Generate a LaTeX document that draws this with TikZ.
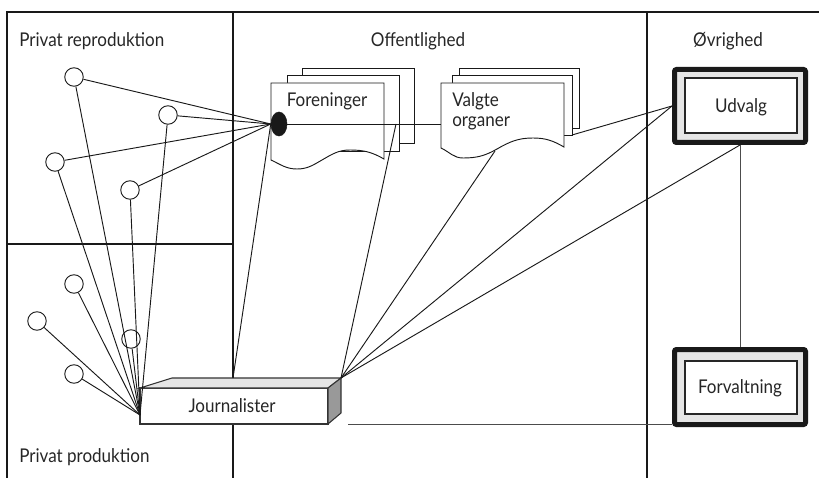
\documentclass[tikz,border=0pt]{standalone}
\usepackage{fontspec}
\setmainfont{Lato}[FakeStretch=0.9]
\usetikzlibrary{shapes.geometric}
\begin{document}
\begin{tikzpicture}[x=0.75pt,y=-0.75pt,
  thinline/.style={line width=0.7pt,draw=black!90},
  frameline/.style={line width=1.4pt,draw=black!90},
  dot/.style={circle,draw=black!90,line width=0.7pt,minimum size=13.9pt,inner sep=0pt},
  lbl/.style={font=\fontsize{14.2}{16}\selectfont,text=black!85,inner sep=0pt},
  doc/.style={draw=black!90,fill=white,line width=0.7pt},
  outerbox/.style={draw=black!90,fill=black!10,line width=3.75pt,rounded corners=1.5pt,minimum width=98.25pt,inner sep=0pt},
  innerbox/.style={draw=black!85,fill=white,line width=0.9pt,minimum width=84pt,inner sep=0pt}]
\useasboundingbox (0,0) rectangle (819,478);

% frame
\draw[frameline,line width=2.2pt] (7,478) -- (7,12) -- (819,12);
\draw[frameline] (233,12) -- (233,478);
\draw[frameline] (647,12) -- (647,478);
\draw[line width=1pt,draw=black!90] (7,244) -- (233,244);

% labels of the regions
\node[lbl,anchor=base west] (t1) at (19,47) {Privat reproduktion};
\node[lbl,anchor=base] (t2) at (418,47) {Offentlighed};
\node[lbl,anchor=base] (t3) at (728,47) {Øvrighed};
\node[lbl,anchor=base west] (t4) at (19,462) {Privat produktion};

% circles
\node[dot] (c1) at (74,77) {};
\node[dot] (c2) at (168,115) {};
\node[dot] (c3) at (55,162) {};
\node[dot] (c4) at (130,190) {};
\node[dot] (c5) at (74,284) {};
\node[dot] (c6) at (37,321) {};
\node[dot] (c7) at (131,339) {};
\node[dot] (c8) at (74,374) {};

% Foreninger stack
\draw[doc] (302,68) rectangle (414,143);
\draw[doc] (287,75) rectangle (399,151);
\draw[doc] (271,83) -- (384,83) -- (384,159) to[out=150,in=0] (350,150) to[out=180,in=30] (322,160) to[out=210,in=0] (297,169) to[out=180,in=-25] (271,160) -- cycle;
\node[lbl,anchor=base] (foren) at (327,107) {Foreninger};

% Valgte organer stack
\draw[doc] (459,68) rectangle (579,128);
\draw[doc] (452,75) rectangle (572,135);
\draw[doc] (441,83) -- (564,83) -- (564,147) to[out=150,in=0] (533,138) to[out=180,in=30] (497,149) to[out=210,in=0] (463,158) to[out=180,in=-25] (441,148) -- cycle;
\node[lbl,anchor=base west] (valg1) at (452,107) {Valgte};
\node[lbl,anchor=base west] (valg2) at (452,127) {organer};

% Udvalg and Forvaltning
\node[outerbox,minimum height=54.75pt] (udv) at (740,106) {};
\node[innerbox,minimum height=41.25pt] (udvi) at (741,105.5) {};
\node[lbl,anchor=base] (udvt) at (741,113) {Udvalg};
\node[outerbox,minimum height=56.25pt] (forv) at (740,387) {};
\node[innerbox,minimum height=39.75pt] (forvi) at (741,387.5) {};
\node[lbl,anchor=base] (forvt) at (740,393) {Forvaltning};

% Journalister box
\node[draw=black!80,fill=white,line width=0.8pt,outer sep=0pt,minimum width=141pt,minimum height=27pt,inner sep=0pt] (jour) at (234,406) {};
\draw[fill=black!10,line width=0.8pt,draw=black!80] (140,388) -- (172,378) -- (341,378) -- (328,388) -- cycle;
\draw[fill=black!40,line width=0.8pt,draw=black!80] (328,388) -- (341,378) -- (341,413) -- (328,424) -- cycle;
\node[lbl,anchor=base] (jourt) at (232,412) {Journalister};

% connection points
\coordinate (JL) at (140,415);
\coordinate (JR) at (341,378);
\coordinate (JT) at (233,378);
\coordinate (FR) at (396,124);
\coordinate (VL) at (441,124);
\coordinate (VW) at (495,151);
\coordinate (VB) at (572,135);
\coordinate (JF) at (348,424);

\node[ellipse,fill=black!90,draw=black!90,minimum width=12pt,minimum height=18pt,inner sep=0pt] (fdot) at (279,124) {};

% connectors
\foreach \c in {c1,c2,c3,c4,c5,c6,c7,c8} \draw[thinline] (\c) -- (JL);
\foreach \c in {c1,c2,c3,c4} \draw[thinline] (\c) -- (fdot.west);
\draw[thinline] (fdot.west) -- (JT);
\draw[thinline] (fdot) -- (VL);
\draw[thinline] (FR) -- (JR);
\draw[thinline] (VW) -- (JR);
\draw[thinline] (VB) -- (udv.west);
\draw[thinline] (JR) -- (udv.west);
\draw[thinline] (JR) -- (udv.south);
\draw[thinline,draw=black!70] (udv.south) -- (forv.north);
\draw[thinline,draw=black!70] (JF) -- (forv.west |- JF);
\end{tikzpicture}
\end{document}
